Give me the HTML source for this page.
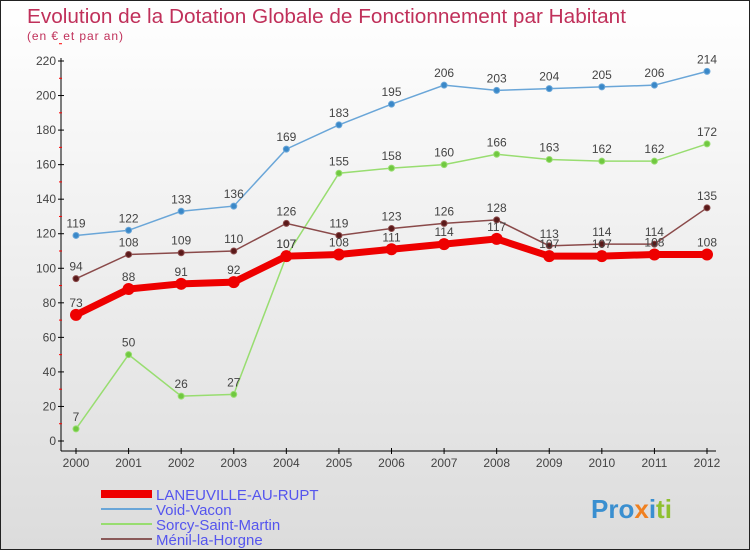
<!DOCTYPE html>
<html><head><meta charset="utf-8"><style>
body{margin:0}
#c{width:750px;height:550px;position:relative;box-sizing:border-box;border:1px solid #222;background:linear-gradient(#fff,#dcdcdc);font-family:"Liberation Sans",sans-serif;overflow:hidden}
text{font-family:"Liberation Sans",sans-serif}
</style></head><body>
<div id="c">
<svg id="s" width="750" height="550">
<text x="26" y="22" font-size="20" fill="#c0305a" textLength="599" lengthAdjust="spacingAndGlyphs">Evolution de la Dotation Globale de Fonctionnement par Habitant</text>
<text x="26" y="39" font-size="12" fill="#c0305a" textLength="96">(en € et par an)</text>
<text x="590" y="517" font-size="26" font-weight="bold" fill="#3a8fd0">Pro<tspan fill="#f08020">x</tspan><tspan fill="#3a8fd0">i</tspan><tspan fill="#8fc030">ti</tspan></text>
</svg>
</div>
<script>
const years=[2000,2001,2002,2003,2004,2005,2006,2007,2008,2009,2010,2011,2012];
const yTicks=[0,20,40,60,80,100,120,140,160,180,200,220];
const laneuville=[73,88,91,92,107,108,111,114,117,107,107,108,108];
const voidVacon=[119,122,133,136,169,183,195,206,203,204,205,206,214];
const sorcy=[7,50,26,27,107,155,158,160,166,163,162,162,172];
const menil=[94,108,109,110,126,119,123,126,128,113,114,114,135];
const names=["LANEUVILLE-AU-RUPT","Void-Vacon","Sorcy-Saint-Martin","Ménil-la-Horgne"];
const NS="http://www.w3.org/2000/svg",s=document.getElementById('s');
const x=i=>75+i*(706-75)/12, y=v=>440-v*380/220;
function mk(t,a,p){const e=document.createElementNS(NS,t);for(const k in a)e.setAttribute(k,a[k]);(p||s).appendChild(e);return e;}
let ax=mk('line',{x1:60,y1:57,x2:60,y2:450,stroke:'#000'});


let xa=mk('line',{x1:60,y1:450,x2:715,y2:450,stroke:'#000'});


yTicks.forEach(v=>{mk('line',{x1:57,x2:63,y1:y(v),y2:y(v),stroke:'#000'});
 mk('line',{x1:58,x2:61,y1:y(v+10),y2:y(v+10),stroke:'red'});
 const t=mk('text',{x:55,y:y(v)+4,'font-size':12,fill:'#444','text-anchor':'end'});t.textContent=v;
 
 });
years.forEach((yr,i)=>{mk('line',{x1:x(i),x2:x(i),y1:447,y2:453,stroke:'#000'});
 const t=mk('text',{x:x(i),y:466,'font-size':12,fill:'#444','text-anchor':'middle'});t.textContent=yr;
 
 });
const series=[[voidVacon,'#6aa6d8','#3a88c8',1.5,3],[sorcy,'#98dd70','#70c840',1.5,3],[menil,'#8a4a4a','#5a1a1a',1.5,3],[laneuville,'#ee0000','#ee0000',7,6]];
series.forEach(([d,c,pc,w,r],si)=>{
 const g=mk('g',{});
 
 
 mk('polyline',{points:d.map((v,i)=>x(i)+','+y(v)).join(' '),fill:'none',stroke:c,'stroke-width':w},g);
 d.forEach((v,i)=>{const p=mk('circle',{cx:x(i),cy:y(v),r:r,fill:pc,stroke:si==3?'none':c},g);
  
  
  const t=mk('text',{x:x(i),y:y(v)-8,'font-size':12,fill:'#444','text-anchor':'middle'},g);t.textContent=v;
  
  });
});
const lc=['#ee0000','#6aa6d8','#98dd70','#8a5a5a'],lw=[8,2,2,2];
names.forEach((n,i)=>{const yy=493+i*15;
 const l=mk('line',{x1:100,x2:151,y1:yy,y2:yy,stroke:lc[i],'stroke-width':lw[i]});
 
 
 const t=mk('text',{x:155,y:yy+6,'font-size':15,fill:'#5555ee'});t.textContent=n;
 
 });
</script>
</body></html>
